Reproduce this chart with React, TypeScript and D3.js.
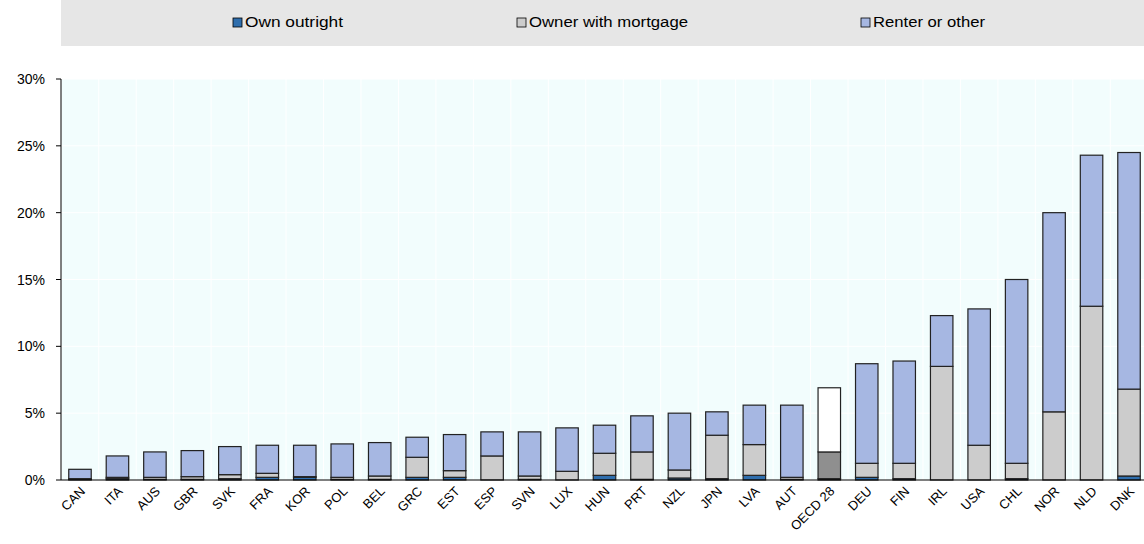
import React from "react";
import * as d3 from "d3";

const countries = ["CAN","ITA","AUS","GBR","SVK","FRA","KOR","POL","BEL","GRC","EST","ESP","SVN","LUX","HUN","PRT","NZL","JPN","LVA","AUT","OECD 28","DEU","FIN","IRL","USA","CHL","NOR","NLD","DNK"];
const own = [0.05,0.1,0.05,0.05,0.1,0.2,0.2,0.05,0.05,0.2,0.2,0,0.05,0,0.35,0.05,0.15,0.1,0.35,0.05,0.1,0.2,0.1,0,0,0.1,0,0,0.3];
const mortgage = [0.05,0.1,0.15,0.2,0.3,0.3,0.05,0.15,0.25,1.5,0.5,1.8,0.25,0.65,1.65,2.05,0.6,3.25,2.3,0.15,2.0,1.05,1.15,8.5,2.6,1.15,5.1,13.0,6.5];
const total = [0.8,1.8,2.1,2.2,2.5,2.6,2.6,2.7,2.8,3.2,3.4,3.6,3.6,3.9,4.1,4.8,5.0,5.1,5.6,5.6,6.9,8.7,8.9,12.3,12.8,15.0,20.0,24.3,24.5];
const yTicks = [0,5,10,15,20,25,30];
const legend = ["Own outright","Owner with mortgage","Renter or other"];
const colors = ["#2f6ead","#cccccc","#a6b7e2"];
const oecdColors = ["#333333","#8f8f8f","#ffffff"];

export default function App() {
  const W = 1144, H = 544, L = 61, R = 1144, T = 79, B = 480;
  const x = d3.scaleBand().domain(countries).range([L + 4, R]).paddingInner(0.4).paddingOuter(0.1).align(0.5);
  const y = d3.scaleLinear().domain([0, 30]).range([B, T]);
  const bw = x.bandwidth();
  return (
    <svg width={W} height={H} style={{ position: "absolute", left: 0, top: 0, fontFamily: "Arial, Liberation Sans, sans-serif" }}>
      <rect x={L} y={0} width={R - L} height={46} fill="#e6e6e6" />
      {legend.map((t, i) => {
        const lx = [233, 517, 861][i];
        return (
          <g key={t}>
            <rect x={lx} y={18} width={9} height={9} fill={colors[i]} stroke="#000" strokeWidth={0.8} />
            <text x={lx + 12} y={27} fontSize={14} fill="#000" textLength={[98, 159, 112][i]} lengthAdjust="spacingAndGlyphs">{t}</text>
          </g>
        );
      })}
      <rect x={L} y={T} width={R - L} height={B - T} fill="#f2fdfd" />
      {countries.map((c) => (
        <line key={c} x1={x(c)! - bw * 0.333} x2={x(c)! - bw * 0.333} y1={T} y2={B} stroke="#ffffff" strokeWidth={1} />
      ))}
      {yTicks.map((t) => (
        <g key={t}>
          <line x1={L} x2={R} y1={y(t)} y2={y(t)} stroke="#ffffff" />
          <line x1={L - 5} x2={L} y1={y(t)} y2={y(t)} stroke="#000" />
          <text x={L - 16} y={y(t) + 5} fontSize={14} textAnchor="end" fill="#000">{t}%</text>
        </g>
      ))}
      {countries.map((c, i) => {
        const cols = c === "OECD 28" ? oecdColors : colors;
        const segs = [[0, own[i]], [own[i], own[i] + mortgage[i]], [own[i] + mortgage[i], total[i]]];
        return (
          <g key={c}>
            {segs.map(([a, b], k) => b - a > 0 ? (
              <rect key={k} x={x(c)} y={y(b)} width={bw} height={y(a) - y(b)} fill={cols[k]} stroke="#222" strokeWidth={1.2} />
            ) : null)}
            <text transform={`translate(${x(c)! + bw / 2 + 6},${B + 12}) rotate(-45)`} fontSize={13} textAnchor="end" fill="#000">{c}</text>
          </g>
        );
      })}
      <line x1={L} x2={L} y1={T} y2={B} stroke="#000" />
      <line x1={L} x2={R} y1={B} y2={B} stroke="#000" />
    </svg>
  );
}
